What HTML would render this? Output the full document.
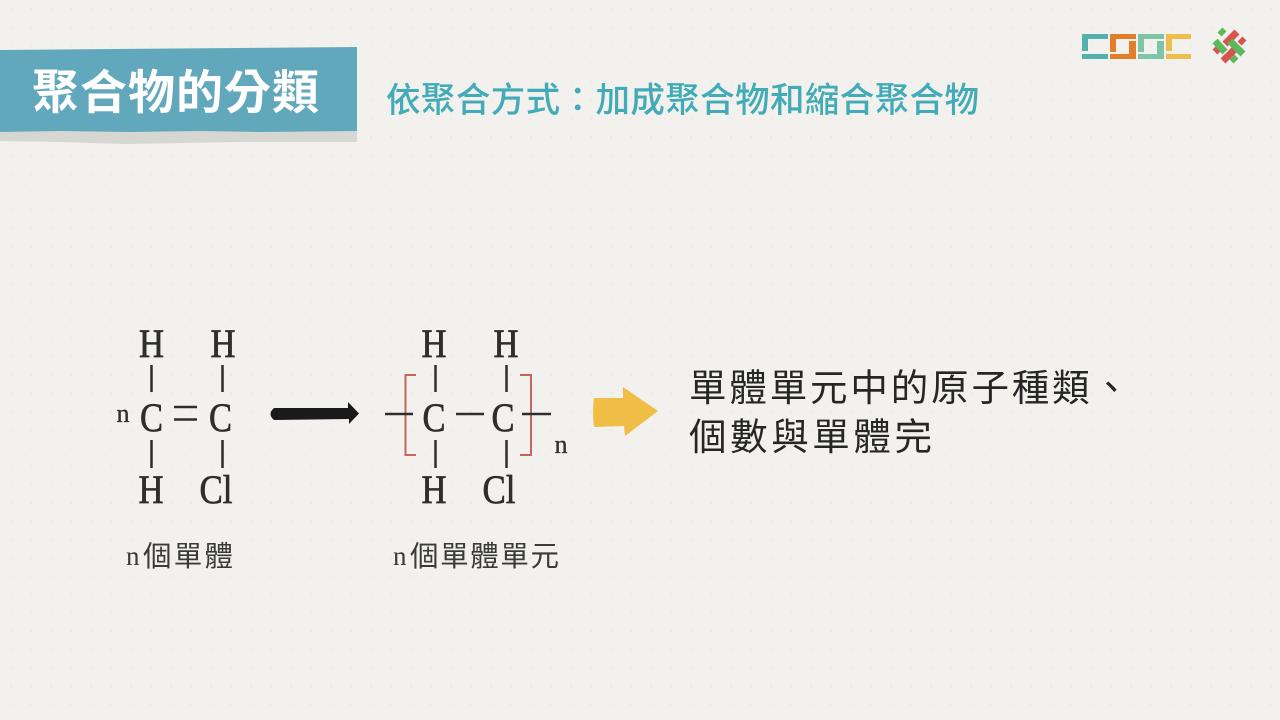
<!DOCTYPE html>
<html lang="zh-Hant">
<head>
<meta charset="utf-8">
<style>
html,body{margin:0;padding:0;width:1280px;height:720px;overflow:hidden;background:#f2f1ee}
svg{display:block}
.cjk{font-family:"Liberation Sans","Noto Sans CJK TC",sans-serif}
.chem{font-family:"Liberation Serif",serif;fill:#2e2e2c;stroke:#2e2e2c;stroke-width:.7px;font-size:40px;text-anchor:middle}
</style>
</head>
<body>
<svg width="1280" height="720" viewBox="0 0 1280 720" xmlns="http://www.w3.org/2000/svg">
<defs>
<pattern id="dots" x="10" y="8" width="20" height="18.3" patternUnits="userSpaceOnUse">
<rect x="0" y="0" width="2" height="2" fill="#ebeae6"/>
</pattern>
</defs>
<rect width="1280" height="720" fill="#f2f1ee"/>
<rect width="1280" height="720" fill="url(#dots)"/>

<!-- Banner -->
<polygon points="0,130 357,130 357,142 240,142 125,144 60,142 0,141" fill="#d6d6d3"/>
<polygon points="0,50 357,47 357,131 260,132 200,131 130,132 60,131 0,132" fill="#62a8bd"/>
<text class="cjk" x="32" y="109" font-size="47" font-weight="700" fill="#ffffff" textLength="287" lengthAdjust="spacing">聚合物的分類</text>
<text class="cjk" x="386" y="112" font-size="34.500" font-weight="500" fill="#42abb8" textLength="593" lengthAdjust="spacing">依聚合方式：加成聚合物和縮合聚合物</text>

<!-- Logo -->
<g>
<path d="M1082 34h26v5h-20v12h-6z" fill="#54b0ac"/><rect x="1082" y="54" width="26" height="5" fill="#54b0ac"/>
<path d="M1110 34h26v5h-20v13h-6z" fill="#e27d2b"/>
<path d="M1129 41h7v18h-26v-5h19z" fill="#e27d2b"/>
<path d="M1138 34h26v5h-20v13h-6z" fill="#7dc4a8"/>
<path d="M1157 41h7v18h-26v-5h19z" fill="#7dc4a8"/>
<path d="M1166 34h25v5h-19v12h-6z" fill="#efbd4e"/><rect x="1166" y="54" width="25" height="5" fill="#efbd4e"/>
</g>
<g stroke-width="7" fill="none">
<g stroke="#d9534f">
<path d="M1237 32L1225 44M1235 49L1223 61M1240 39L1244 43M1219 48L1215 52"/>
</g>
<g stroke="#5cb85c">
<path d="M1220 30L1224 34M1215 41L1225 52M1230 41L1243 54M1232 57L1236 61"/>
</g>
</g>

<!-- Left molecule -->
<g>
<text class="chem" x="151.500" y="357" textLength="25" lengthAdjust="spacingAndGlyphs">H</text>
<text class="chem" x="223" y="357" textLength="25" lengthAdjust="spacingAndGlyphs">H</text>
<text class="chem" x="151.500" y="431" textLength="23" lengthAdjust="spacingAndGlyphs">C</text>
<text class="chem" x="220.500" y="431" textLength="23" lengthAdjust="spacingAndGlyphs">C</text>
<text class="chem" x="151" y="503" textLength="25" lengthAdjust="spacingAndGlyphs">H</text>
<text class="chem" x="216" y="503" textLength="33" lengthAdjust="spacingAndGlyphs">Cl</text>
<text class="chem" x="123" y="422" style="font-size:26px;stroke-width:.3px">n</text>
</g>
<g stroke="#2e2e2c" stroke-width="2.500" fill="none">
<path d="M151.500 365V392M222.500 365V392M151.500 440V468M222.500 440V468"/>
<path d="M174 407H197M174 419.500H197"/>
</g>
<path d="M274 408L348 408V402L359 413.500L349 424V419L274 420Q267 414 274 408Z" fill="#1a1a1a"/>

<!-- Right molecule -->
<g>
<text class="chem" x="434" y="357" textLength="25" lengthAdjust="spacingAndGlyphs">H</text>
<text class="chem" x="506" y="357" textLength="25" lengthAdjust="spacingAndGlyphs">H</text>
<text class="chem" x="434" y="431" textLength="23" lengthAdjust="spacingAndGlyphs">C</text>
<text class="chem" x="503" y="431" textLength="23" lengthAdjust="spacingAndGlyphs">C</text>
<text class="chem" x="434" y="503" textLength="25" lengthAdjust="spacingAndGlyphs">H</text>
<text class="chem" x="499" y="503" textLength="33" lengthAdjust="spacingAndGlyphs">Cl</text>
<text class="chem" x="561" y="453" style="font-size:26px;stroke-width:.3px">n</text>
</g>
<path d="M416 375H405.500V455H416M520 375H531V455H520" fill="none" stroke="#c4655f" stroke-width="2"/>
<path d="M385 414H413M456 414H484M522 414H551M435.500 365V392M506.500 365V392M435.500 440V468M506.500 440V468" fill="none" stroke="#2e2e2c" stroke-width="2.500"/>

<!-- Yellow arrow -->
<path d="M594 398L623 398L623 387L658 411L625 436L624 426L594 427Q592 412 594 398Z" fill="#f0bd45"/>

<!-- Text -->
<text class="cjk" x="689" y="401" font-size="37.500" fill="#262626" textLength="441" lengthAdjust="spacing">單體單元中的原子種類、</text>
<text class="cjk" x="689" y="450" font-size="37.500" fill="#262626" textLength="243" lengthAdjust="spacing">個數與單體完</text>
<text x="126" y="565" fill="#3a3a38" font-size="27" font-family="'Liberation Serif','Noto Sans CJK TC',serif">n</text>
<text class="cjk" x="143" y="566" font-size="28.500" fill="#3a3a38" textLength="90" lengthAdjust="spacing">個單體</text>
<text x="393" y="565" fill="#3a3a38" font-size="27" font-family="'Liberation Serif','Noto Sans CJK TC',serif">n</text>
<text class="cjk" x="410" y="566" font-size="28.500" fill="#3a3a38" textLength="149" lengthAdjust="spacing">個單體單元</text>
</svg>
</body>
</html>
